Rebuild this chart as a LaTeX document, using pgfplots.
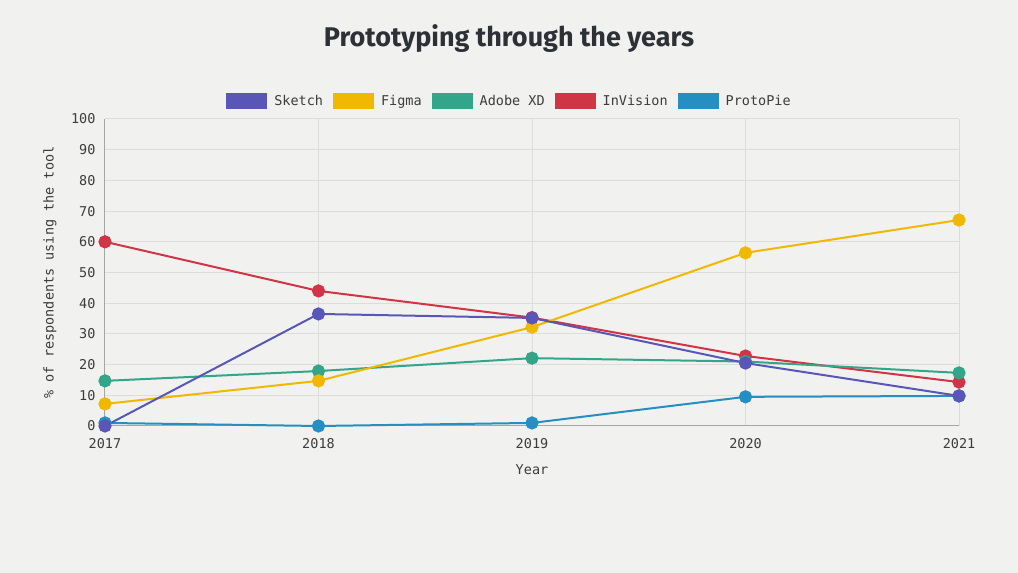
\documentclass[border=0pt]{standalone}
\usepackage{fontspec}
\usepackage{pgfplots}
\pgfplotsset{compat=1.18}
\setmainfont{DejaVu Sans Mono}
\newfontfamily\titlefont{Fira Sans}
\definecolor{bg}{RGB}{241,241,239}
\definecolor{gridc}{RGB}{220,220,218}
\definecolor{axc}{RGB}{165,165,165}
\definecolor{txt}{RGB}{60,60,60}
\definecolor{ttl}{RGB}{45,48,52}
\definecolor{sketch}{RGB}{90,86,184}
\definecolor{figma}{RGB}{240,184,0}
\definecolor{adobexd}{RGB}{51,166,138}
\definecolor{invision}{RGB}{208,53,69}
\definecolor{protopie}{RGB}{36,143,192}
\begin{document}
\begin{tikzpicture}[x=1pt,y=1pt]
\fill[bg] (0,0) rectangle (1018,573);
\useasboundingbox (0,0) rectangle (1018,573);
\node[font=\titlefont\bfseries\fontsize{27}{32}\selectfont, text=ttl] at (509,534) {Prototyping through the years};
\begin{axis}[
  at={(105pt,147pt)}, anchor=south west,
  scale only axis, width=854pt, height=307pt,
  xmin=2017, xmax=2021, ymin=0, ymax=100,
  xtick={2017,2018,2019,2020,2021},
  ytick={0,10,...,100},
  xticklabel style={/pgf/number format/1000 sep={}},
  /pgf/number format/assume math mode=true,
  tick label style={font=\fontsize{13.5}{16}\selectfont, text=txt},
  label style={font=\fontsize{13.5}{16}\selectfont, text=txt},
  xlabel={Year}, ylabel={\% of respondents using the tool},
  xlabel style={at={(axis description cs:0.5,-0.1433)}, anchor=center},
  ylabel style={at={(axis description cs:-0.0644,0.5)}, anchor=center},
  xticklabel style={yshift=-9pt},
  yticklabel style={xshift=-6pt},
  grid=major,
  major grid style={gridc, line width=1pt},
  axis x line*=bottom, axis y line*=left,
  axis line style={axc, line width=1pt, -},
  major tick style={draw=none},
  clip=false,
  every axis plot/.append style={line width=2pt, mark=*, mark size=5.6pt, mark options={solid}},
  reverse legend,
  legend columns=5,
  legend style={at={(0.4725,1.0586)}, anchor=center, draw=none, fill=none,
    font=\fontsize{13.5}{16}\selectfont, text=txt,
    inner sep=0pt,
    nodes={inner sep=0pt, anchor=west},
    /tikz/every odd column/.append style={column sep=7pt},
    /tikz/every even column/.append style={column sep=10pt}},
  legend image code/.code={\fill[#1, draw=none] (0pt,-8pt) rectangle (41pt,8pt);},
]
\addplot[color=protopie] coordinates {(2017,1) (2018,0) (2019,1) (2020,9.5) (2021,9.8)};
\addplot[color=invision] coordinates {(2017,60) (2018,44) (2019,35.3) (2020,22.8) (2021,14.3)};
\addplot[color=adobexd] coordinates {(2017,14.7) (2018,17.9) (2019,22.1) (2020,21) (2021,17.3)};
\addplot[color=figma] coordinates {(2017,7.2) (2018,14.7) (2019,32.2) (2020,56.4) (2021,67.1)};
\addplot[color=sketch] coordinates {(2017,0) (2018,36.5) (2019,35.2) (2020,20.5) (2021,9.8)};
\legend{ProtoPie,InVision,Adobe XD,Figma,Sketch}
\end{axis}
\end{tikzpicture}
\end{document}
